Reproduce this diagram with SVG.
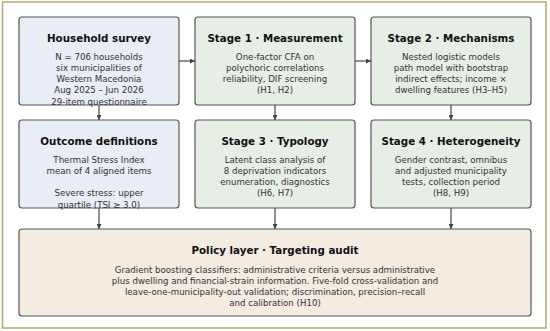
<svg xmlns="http://www.w3.org/2000/svg" width="550" height="331" viewBox="0 0 550 331">
<style>
.box{stroke:#555;stroke-width:1.2}
.data{fill:#e9edf5}
.stage{fill:#e6eee6}
.policy{fill:#f4ebe1}
.t{font-family:"DejaVu Sans",sans-serif;font-weight:bold;font-size:10.3px;fill:#111;text-anchor:middle}
.b{font-family:"DejaVu Sans",sans-serif;font-size:8.65px;fill:#333;text-anchor:middle}
.c{stroke:#444;stroke-width:1.2;fill:none;marker-end:url(#ah)}
</style>
<defs>
<marker id="ah" viewBox="0 0 6 6" refX="6" refY="3" markerWidth="5" markerHeight="5" markerUnits="userSpaceOnUse" orient="auto">
<path d="M0,0 L6,3 L0,6 z" fill="#444"/>
</marker>
</defs>
<rect x="2.5" y="2" width="543.5" height="326" fill="#fff" stroke="#b5a96c" stroke-width="1.5"/>
<g id="connectors">
<line class="c" x1="179" y1="61" x2="195" y2="61"/>
<line class="c" x1="355" y1="61" x2="371" y2="61"/>
<line class="c" x1="99" y1="105" x2="99" y2="120"/>
<line class="c" x1="275" y1="105" x2="275" y2="120"/>
<line class="c" x1="451" y1="105" x2="451" y2="120"/>
<line class="c" x1="99" y1="208" x2="99" y2="229"/>
<line class="c" x1="275" y1="208" x2="275" y2="229"/>
<line class="c" x1="451" y1="208" x2="451" y2="229"/>
</g>
<g id="survey">
<rect class="box data" x="19" y="17" width="160" height="88" rx="3"/>
<text class="t" x="99" y="41.5">Household survey</text>
<text class="b" x="99" y="59.8">N = 706 households</text>
<text class="b" x="99" y="71">six municipalities of</text>
<text class="b" x="99" y="82.2">Western Macedonia</text>
<text class="b" x="99" y="93.4">Aug 2025 – Jun 2026</text>
<text class="b" x="99" y="104.6">29-item questionnaire</text>
</g>
<g id="stage1">
<rect class="box stage" x="195" y="17" width="160" height="88" rx="3"/>
<text class="t" x="275" y="41.5">Stage 1 · Measurement</text>
<text class="b" x="275" y="59.8">One-factor CFA on</text>
<text class="b" x="275" y="71">polychoric correlations</text>
<text class="b" x="275" y="82.2">reliability, DIF screening</text>
<text class="b" x="275" y="93.4">(H1, H2)</text>
</g>
<g id="stage2">
<rect class="box stage" x="371" y="17" width="160" height="88" rx="3"/>
<text class="t" x="451" y="41.5">Stage 2 · Mechanisms</text>
<text class="b" x="451" y="59.8">Nested logistic models</text>
<text class="b" x="451" y="71">path model with bootstrap</text>
<text class="b" x="451" y="82.2">indirect effects; income ×</text>
<text class="b" x="451" y="93.4">dwelling features (H3–H5)</text>
</g>
<g id="outcome">
<rect class="box data" x="19" y="120" width="160" height="88" rx="3"/>
<text class="t" x="99" y="144.5">Outcome definitions</text>
<text class="b" x="99" y="162.8">Thermal Stress Index</text>
<text class="b" x="99" y="174">mean of 4 aligned items</text>
<text class="b" x="99" y="196.4">Severe stress: upper</text>
<text class="b" x="99" y="207.6">quartile (TSI ≥ 3.0)</text>
</g>
<g id="stage3">
<rect class="box stage" x="195" y="120" width="160" height="88" rx="3"/>
<text class="t" x="275" y="144.5">Stage 3 · Typology</text>
<text class="b" x="275" y="162.8">Latent class analysis of</text>
<text class="b" x="275" y="174">8 deprivation indicators</text>
<text class="b" x="275" y="185.2">enumeration, diagnostics</text>
<text class="b" x="275" y="196.4">(H6, H7)</text>
</g>
<g id="stage4">
<rect class="box stage" x="371" y="120" width="160" height="88" rx="3"/>
<text class="t" x="451" y="144.5">Stage 4 · Heterogeneity</text>
<text class="b" x="451" y="162.8">Gender contrast, omnibus</text>
<text class="b" x="451" y="174">and adjusted municipality</text>
<text class="b" x="451" y="185.2">tests, collection period</text>
<text class="b" x="451" y="196.4">(H8, H9)</text>
</g>
<g id="policy">
<rect class="box policy" x="19" y="229" width="512" height="87" rx="3"/>
<text class="t" x="275" y="254.2">Policy layer · Targeting audit</text>
<text class="b" x="275" y="272.6">Gradient boosting classifiers: administrative criteria versus administrative</text>
<text class="b" x="275" y="283.8">plus dwelling and financial-strain information. Five-fold cross-validation and</text>
<text class="b" x="275" y="295">leave-one-municipality-out validation; discrimination, precision–recall</text>
<text class="b" x="275" y="306.2">and calibration (H10)</text>
</g>
</svg>
